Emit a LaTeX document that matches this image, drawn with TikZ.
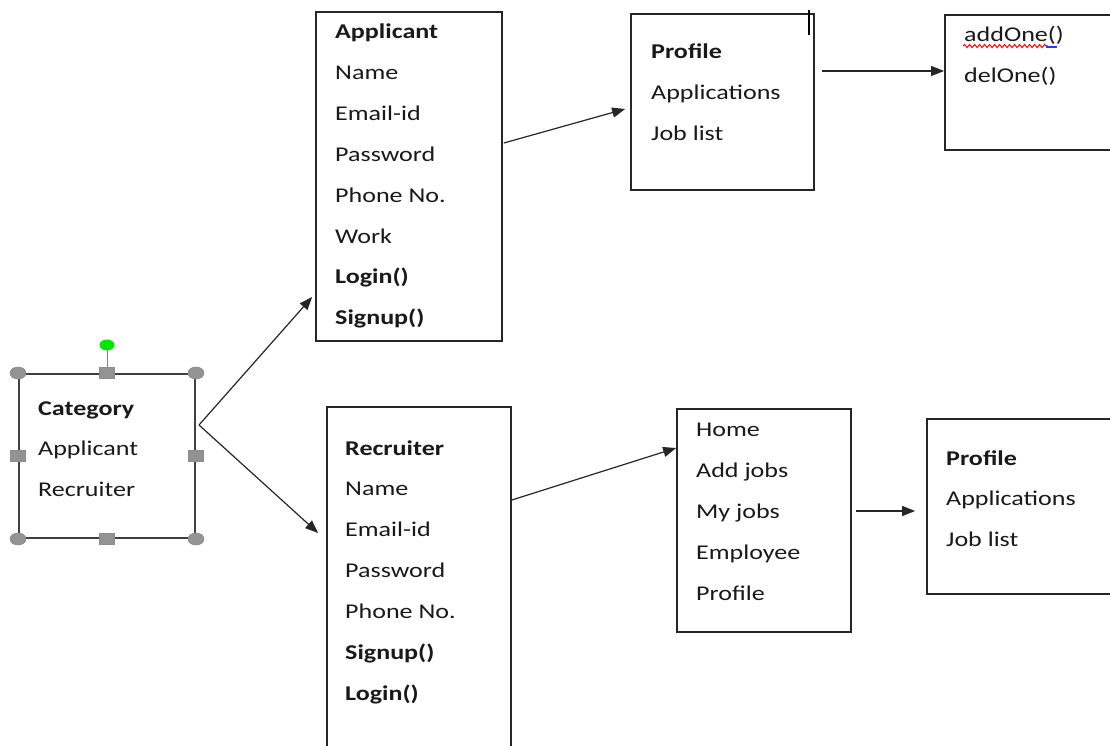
\documentclass[tikz,border=0pt]{standalone}
\usepackage{fontspec}
\setmainfont{Carlito}[FakeStretch=1.24]
\usetikzlibrary{arrows.meta,decorations.pathmorphing,shapes.geometric}

\tikzset{
  box/.style={rectangle,draw=black!85,line width=1.7pt,inner sep=0pt},
  item/.style={anchor=base west,inner sep=0pt,font=\fontsize{21}{25}\selectfont,text=black!90},
  arr/.style={draw=black!85,line width=1.2pt,-{Triangle[length=13pt,width=10pt]}},
  grip/.style={fill=gray!85,draw=gray!90,line width=0.6pt}
}

\begin{document}
\begin{tikzpicture}[x=1pt,y=-1pt]
        \useasboundingbox[fill=white] (0,0) rectangle (1110,746);

        % boxes
        \node(cat) at (107,456)   [box,draw=black!75,line width=2pt,minimum width=176pt,minimum height=164pt] {};
        \node(app) at (409,176.5) [box,minimum width=186pt,minimum height=329pt] {};
        \node(prf) at (722.5,102) [box,minimum width=183pt,minimum height=176pt] {};
        \node(ops) at (1035,82.5) [box,minimum width=180pt,minimum height=135pt] {};
        \node(rec) at (419,590)   [box,minimum width=184pt,minimum height=366pt] {};
        \node(hom) at (764,520.5) [box,minimum width=174pt,minimum height=223pt] {};
        \node(prf2) at (1026,506.5) [box,minimum width=198pt,minimum height=175pt] {};

        % texts
        \foreach \txt [count=\i from 0] in {\textbf{Category},Applicant,Recruiter}
            \node(c\i) at (38,415+40.5*\i) [item] {\txt};
        \foreach \txt [count=\i from 0] in {\textbf{Applicant},Name,Email-id,Password,Phone No.,Work,\textbf{Login()},\textbf{Signup()}}
            \node(a\i) at (335,39+40.8*\i) [item] {\txt};
        \foreach \txt [count=\i from 0] in {\textbf{Profile},Applications,Job list}
            \node(p\i) at (651,59+41*\i) [item] {\txt};
        \foreach \txt [count=\i from 0] in {addOne(),delOne()}
            \node(o\i) at (964,42+41*\i) [item] {\txt};
        \foreach \txt [count=\i from 0] in {\textbf{Recruiter},Name,Email-id,Password,Phone No.,\textbf{Signup()},\textbf{Login()}}
            \node(r\i) at (345,455+40.9*\i) [item] {\txt};
        \foreach \txt [count=\i from 0] in {Home,Add jobs,My jobs,Employee,Profile}
            \node(h\i) at (696,436+41*\i) [item] {\txt};
        \foreach \txt [count=\i from 0] in {\textbf{Profile},Applications,Job list}
            \node(q\i) at (946,465+40.5*\i) [item] {\txt};

        % spell check marks and cursor
        \draw[red,line width=1pt,decorate,decoration={snake,amplitude=1.5pt,segment length=5pt}] (963,46) -- (1048,46);
        \draw[blue!80,line width=1.2pt] (1046,47) -- (1057,47);
        \draw[black,line width=1.2pt] (809,10) -- (809,35);

        % selection handles
        \coordinate(catout) at (199,425);
        \draw[gray,line width=1pt] (cat.north) -- (107,350);
        \node(rot) at (107,345) [ellipse,fill=green!90!black,minimum width=15pt,minimum height=11pt,inner sep=0pt] {};
        \foreach \a in {north west,north east,south west,south east}
            \fill[grip] (cat.\a) ellipse (8pt and 6pt);
        \foreach \a in {north,south,west,east}
            \fill[grip] ([shift={(-7.5,-5.5)}]cat.\a) rectangle ([shift={(7.5,5.5)}]cat.\a);

        % connectors
        \draw[arr] (catout) -- ([xshift=-3pt,yshift=-120.5pt]app.west);
        \draw[arr] (catout) -- ([xshift=-8pt,yshift=57pt]rec.west);
        \draw[arr] ([xshift=1pt,yshift=33.5pt]app.east) -- ([xshift=-5pt,yshift=-7pt]prf.west);
        \draw[arr] ([yshift=90pt]rec.east) -- ([yshift=72.5pt]hom.west);
        \draw[arr] ([xshift=7pt,yshift=31pt]prf.east) -- ([yshift=11.5pt]ops.west);
        \draw[arr] ([xshift=4pt,yshift=9.5pt]hom.east) -- ([xshift=-11pt,yshift=-4.5pt]prf2.west);
\end{tikzpicture}
\end{document}
